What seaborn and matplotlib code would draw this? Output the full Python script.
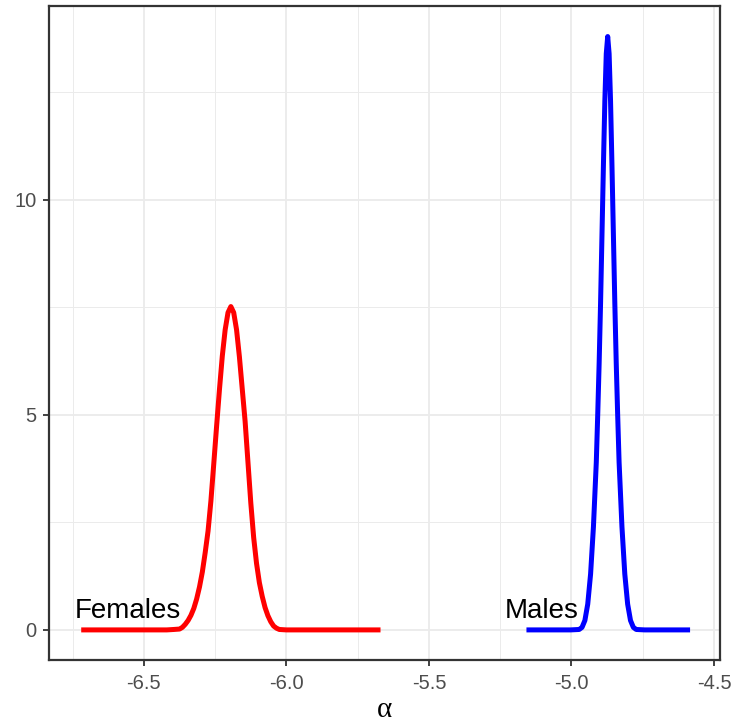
import numpy as np
import pandas as pd
import matplotlib
matplotlib.use("Agg")
import matplotlib.pyplot as plt
from matplotlib.ticker import MultipleLocator
import seaborn as sns

# ---- data ----
fem_x = [-6.72, -6.50, -6.42, -6.395, -6.375, -6.365, -6.355, -6.345, -6.335, -6.325,
         -6.315, -6.305, -6.295, -6.285, -6.275, -6.265, -6.255, -6.245, -6.235,
         -6.225, -6.215, -6.205, -6.195, -6.185, -6.175, -6.165, -6.155, -6.145,
         -6.135, -6.125, -6.115, -6.105, -6.095, -6.085, -6.075, -6.065, -6.055,
         -6.045, -6.035, -6.025, -6.00, -5.90, -5.67]
fem_y = [0.0, 0.0, 0.0, 0.01, 0.02, 0.06, 0.13, 0.22, 0.34, 0.50,
         0.72, 1.00, 1.35, 1.80, 2.30, 3.00, 3.86, 4.74, 5.59,
         6.37, 6.98, 7.38, 7.52, 7.38, 6.98, 6.35, 5.60, 4.85,
         3.90, 2.95, 2.15, 1.55, 1.10, 0.78, 0.52, 0.33, 0.19,
         0.09, 0.04, 0.01, 0.0, 0.0, 0.0]

male_x = [-5.158, -5.003, -4.973, -4.963, -4.953, -4.943, -4.933, -4.923, -4.913,
          -4.908, -4.903, -4.898, -4.893, -4.888, -4.883, -4.878, -4.873,
          -4.868, -4.863, -4.858, -4.853, -4.848, -4.843, -4.838, -4.833,
          -4.823, -4.813, -4.803, -4.793, -4.783, -4.773, -4.743, -4.584]
male_y = [0.0, 0.0, 0.01, 0.06, 0.22, 0.60, 1.30, 2.40, 3.90,
          5.00, 6.20, 7.60, 9.20, 10.80, 12.30, 13.40, 13.80,
          13.40, 12.30, 10.80, 9.20, 7.60, 6.20, 5.00, 3.90,
          2.40, 1.30, 0.60, 0.22, 0.06, 0.01, 0.0, 0.0]

labels = ["Females", "Males"]
label_x = [-6.555, -5.105]
label_y = [0.28, 0.28]
colors = ["#FF0000", "#0000FF"]

x_ticks = [-6.5, -6.0, -5.5, -5.0, -4.5]
x_tick_labels = ["-6.5", "-6.0", "-5.5", "-5.0", "-4.5"]
y_ticks = [0, 5, 10]

df = pd.concat([
    pd.DataFrame({"x": fem_x, "y": fem_y, "sex": "Females"}),
    pd.DataFrame({"x": male_x, "y": male_y, "sex": "Males"}),
])

sns.set_theme(style="white")
plt.rcParams["font.family"] = ["Liberation Sans", "DejaVu Sans"]

fig = plt.figure(figsize=(7.34, 7.22), dpi=100)
ax = fig.add_axes([49 / 734, 1 - 660 / 722, (720 - 49) / 734, (660 - 6) / 722])

sns.lineplot(data=df, x="x", y="y", hue="sex", palette=dict(zip(labels, colors)),
             linewidth=3.6, sort=False, estimator=None, legend=False, ax=ax,
             solid_capstyle="butt", solid_joinstyle="round", zorder=3)

for lab, lx, ly in zip(labels, label_x, label_y):
    ax.text(lx, ly, lab, ha="center", va="baseline", fontsize=20, color="black", zorder=4)

ax.set_xlim(-6.833, -4.479)
ax.set_ylim(-0.70, 14.51)
ax.set_xticks(x_ticks)
ax.set_xticklabels(x_tick_labels)
ax.set_yticks(y_ticks)
ax.xaxis.set_minor_locator(MultipleLocator(0.25))
ax.yaxis.set_minor_locator(MultipleLocator(2.5))

ax.grid(which="major", color="#EBEBEB", linewidth=1.3, zorder=0)
ax.grid(which="minor", color="#EBEBEB", linewidth=0.7, zorder=0)
ax.set_axisbelow(True)

for s in ax.spines.values():
    s.set_color("#333333")
    s.set_linewidth(1.6)

ax.tick_params(axis="both", which="major", length=4, width=1.3, color="#333333",
               labelcolor="#4D4D4D", labelsize=14.5, pad=5, bottom=True, left=True)
ax.tick_params(axis="x", which="major", pad=6)
ax.tick_params(axis="both", which="minor", length=0)

ax.set_xlabel("α", fontsize=21, color="black", labelpad=3,
              family=["Liberation Serif", "DejaVu Serif"])
ax.set_ylabel("")

fig.savefig("out.png", dpi=100, facecolor="white")
